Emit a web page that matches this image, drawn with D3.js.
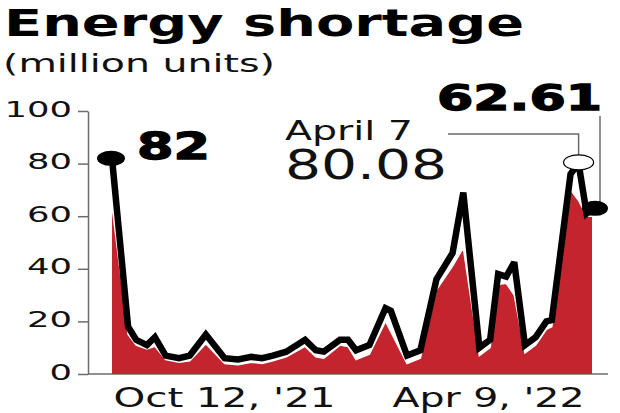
<!DOCTYPE html>
<meta charset="utf-8">
<style>
    body { margin: 0; background: #fff; }
    svg text { font-family: "DejaVu Sans", sans-serif; fill: #111; }
    .axis path, .axis line { stroke: #6b6b6b; stroke-width: 1.5px; }
    .heavy { font-weight: bold; stroke: #000; stroke-width: 1.3px; fill: #000; }
</style>
<svg id="chart" width="620" height="413"></svg>
<script src="https://d3js.org/d3.v7.min.js"></script>
<script>
    // readings (million units)
    var dates = ["2021-10-12", "2021-10-18", "2021-10-21", "2021-10-25", "2021-10-28", "2021-11-01",
        "2021-11-06", "2021-11-10", "2021-11-16", "2021-11-23", "2021-11-28", "2021-12-03",
        "2021-12-07", "2021-12-11", "2021-12-16", "2021-12-23", "2021-12-27", "2021-12-30",
        "2022-01-05", "2022-01-08", "2022-01-11", "2022-01-16", "2022-01-22", "2022-01-24",
        "2022-01-30", "2022-02-04", "2022-02-10", "2022-02-16", "2022-02-20", "2022-02-26",
        "2022-03-02", "2022-03-05", "2022-03-08", "2022-03-11", "2022-03-15", "2022-03-19",
        "2022-03-23", "2022-03-25", "2022-04-01", "2022-04-04", "2022-04-07", "2022-04-09"];
    var shortage = [82, 18, 13, 11, 14, 7, 6, 7, 15, 6, 5.5, 6.5, 6, 7, 8.5, 13, 9, 8.5,
        13, 13, 9, 11, 25, 24, 7, 9, 36, 46, 69, 10, 13, 38, 37, 42.5, 11, 14, 20, 20.5,
        76, 80.08, 61, 62.61];
    // red fill sits a little under the black line in the original
    var fillValues = [64, 15, 11, 9.5, 10.5, 5.5, 4.5, 5, 11.5, 4, 3.5, 4.5, 4, 5, 6.5, 10.5, 6.5, 6,
        11, 10.5, 5.5, 7.5, 20, 16, 4, 6, 32, 41, 48, 7, 10, 34, 34.5, 30, 8, 11, 17, 18,
        70, 66, 60, 60];
    var yTicks = [0, 20, 40, 60, 80, 100];
    var xLabels = ["Oct 12, '21", "Apr 9, '22"];

    var svg = d3.select("#chart");
    var parse = d3.timeParse("%Y-%m-%d");

    var data = dates.map(function (d, i) {
        return { date: parse(d), value: shortage[i], fill: fillValues[i] };
    });
    var first = data[0],
        last = data[data.length - 1],
        rest = data.slice(1),
        peak = rest[d3.maxIndex(rest, function (d) { return d.value; })];

    var x = d3.scaleTime()
        .domain(d3.extent(data, function (d) { return d.date; }))
        .range([112, 592]);
    var y = d3.scaleLinear().domain([0, 100]).range([374, 111]);

    // title
    svg.append("text")
        .attr("x", 4).attr("y", 36)
        .style("font-size", "38px").style("font-weight", "bold").style("fill", "#000")
        .attr("textLength", 520).attr("lengthAdjust", "spacingAndGlyphs")
        .text("Energy shortage");
    svg.append("text")
        .attr("x", 3).attr("y", 72)
        .style("font-size", "25px")
        .attr("textLength", 272).attr("lengthAdjust", "spacingAndGlyphs")
        .text("(million units)");

    // y axis
    var yAxis = svg.append("g")
        .attr("class", "axis")
        .attr("transform", "translate(88,0)")
        .call(d3.axisLeft(y).tickValues(yTicks).tickSize(10).tickSizeOuter(0).tickPadding(6));
    yAxis.selectAll("text")
        .attr("dy", "0.24em")
        .style("font-size", "21px")
        .attr("textLength", function (d) { return String(d).length * 22.5; })
        .attr("lengthAdjust", "spacingAndGlyphs");

    // baseline + date labels
    svg.append("line")
        .attr("x1", 88).attr("x2", 608)
        .attr("y1", y(0)).attr("y2", y(0))
        .attr("stroke", "#6b6b6b").attr("stroke-width", 1.5);

    var xAxis = svg.append("g")
        .attr("class", "axis")
        .attr("transform", "translate(0," + y(0) + ")")
        .call(d3.axisBottom(x)
            .tickValues([first.date, last.date])
            .tickSize(0)
            .tickFormat(function (d, i) { return xLabels[i]; }));
    xAxis.select(".domain").remove();
    xAxis.selectAll("text")
        .attr("y", 33).attr("dy", 0)
        .style("font-size", "27px")
        .attr("text-anchor", function (d, i) { return i === 0 ? "start" : "end"; })
        .attr("dx", function (d, i) { return i === 0 ? 1 : -8; })
        .attr("textLength", function (d, i) { return i === 0 ? 222 : 192; })
        .attr("lengthAdjust", "spacingAndGlyphs");

    // red area, its white edge, then the black line
    var area = d3.area()
        .x(function (d) { return x(d.date); })
        .y0(y(0))
        .y1(function (d) { return y(d.fill); });
    var fillEdge = d3.line()
        .x(function (d) { return x(d.date); })
        .y(function (d) { return y(d.fill); });
    var line = d3.line()
        .x(function (d) { return x(d.date); })
        .y(function (d) { return y(d.value); });

    svg.append("path").datum(data)
        .attr("d", area)
        .attr("fill", "#c3242d");
    svg.append("path").datum(data)
        .attr("d", fillEdge)
        .attr("fill", "none").attr("stroke", "#fff").attr("stroke-width", 1.5);
    svg.append("path").datum(data)
        .attr("d", line)
        .attr("fill", "none")
        .attr("stroke", "#000")
        .attr("stroke-width", 6.5)
        .attr("stroke-linejoin", "miter")
        .attr("stroke-miterlimit", 3);

    // leader lines
    svg.append("path")
        .attr("d", "M448,134H" + x(peak.date) + "V" + (y(peak.value) - 7))
        .attr("fill", "none").attr("stroke", "#6b6b6b").attr("stroke-width", 1.5);
    svg.append("path")
        .attr("d", "M" + (x(last.date) + 8) + ",116V" + (y(last.value) - 6))
        .attr("fill", "none").attr("stroke", "#6b6b6b").attr("stroke-width", 1.5);

    // markers
    svg.append("ellipse")
        .attr("cx", x(first.date) - 1).attr("cy", y(first.value))
        .attr("rx", 14).attr("ry", 7.5)
        .attr("fill", "#000");
    svg.append("ellipse")
        .attr("cx", x(peak.date)).attr("cy", y(peak.value) - 1)
        .attr("rx", 15).attr("ry", 7.5)
        .attr("fill", "#fff").attr("stroke", "#000").attr("stroke-width", 1.2);
    svg.append("ellipse")
        .attr("cx", x(last.date) + 3).attr("cy", y(last.value) - 1)
        .attr("rx", 13).attr("ry", 7.5)
        .attr("fill", "#000");

    // annotations
    svg.append("text")
        .attr("class", "heavy")
        .attr("x", 137).attr("y", 159)
        .style("font-size", "37px")
        .attr("textLength", 73).attr("lengthAdjust", "spacingAndGlyphs")
        .text(first.value);
    svg.append("text")
        .attr("x", 285).attr("y", 140)
        .style("font-size", "26px")
        .attr("textLength", 128).attr("lengthAdjust", "spacingAndGlyphs")
        .text("April 7");
    svg.append("text")
        .attr("x", 285).attr("y", 179)
        .style("font-size", "40px")
        .attr("textLength", 162).attr("lengthAdjust", "spacingAndGlyphs")
        .text(d3.format(".2f")(peak.value));
    svg.append("text")
        .attr("class", "heavy")
        .attr("x", 437).attr("y", 110)
        .style("font-size", "35px")
        .attr("textLength", 165).attr("lengthAdjust", "spacingAndGlyphs")
        .text(d3.format(".2f")(last.value));
</script>
